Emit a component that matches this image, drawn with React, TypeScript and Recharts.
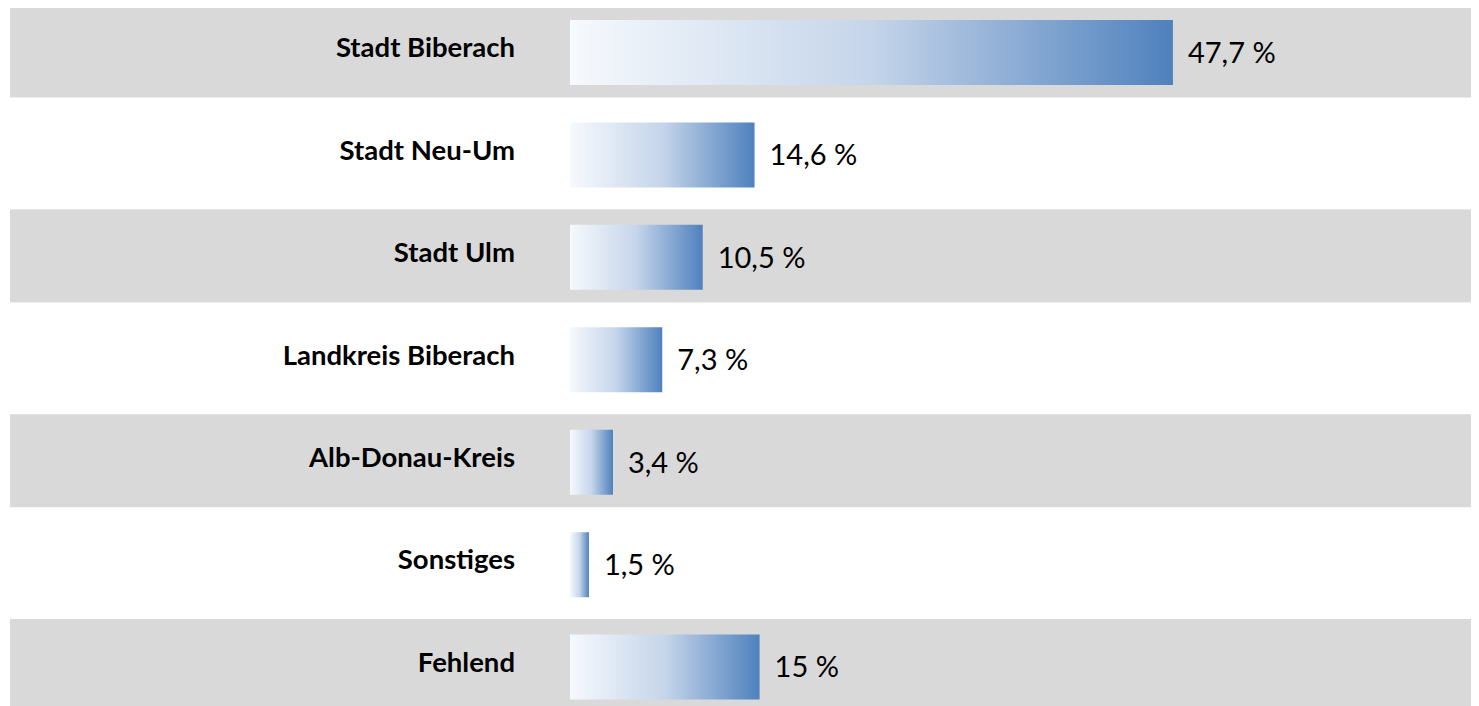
import React from 'react'
import { BarChart, Bar, XAxis, YAxis, LabelList } from 'recharts'

const categories = ['Stadt Biberach', 'Stadt Neu-Um', 'Stadt Ulm', 'Landkreis Biberach', 'Alb-Donau-Kreis', 'Sonstiges', 'Fehlend']
const shares = [47.7, 14.6, 10.5, 7.3, 3.4, 1.5, 15]
const xDomain = [0, 50]

const data = categories.map((name, i) => ({ name, value: shares[i] }))

const FONT = 'Lato, "Open Sans", sans-serif'
const LABEL_AREA = 560 // space left of the plot that the gray stripes still cover

const fmt = (v: any) => Number(v).toLocaleString('de-DE') + ' %'

function CategoryTick({ x, y, payload }: any) {
  return (
    <text x={x} y={y + 5} textAnchor="end" fontFamily={FONT} fontWeight={700} fontSize={27.5} fill="#000">
      {payload.value}
    </text>
  )
}

function Stripe(props: any) {
  const { x, y, width, height, index } = props
  if (index % 2 === 1) return null
  return <rect x={x - LABEL_AREA} y={y + height / 2 - 48} width={width + LABEL_AREA + 400} height={93} fill="#d9d9d9" />
}

export default function App() {
  return (
    <div style={{ margin: '-8px 0 0 -8px', width: 1479, height: 718 }}>
      <BarChart
        width={1479}
        height={718}
        data={data}
        layout="vertical"
        margin={{ top: 1, right: 277, bottom: 0, left: 0 }}
      >
        <defs>
          <linearGradient id="barGrad" x1="0" y1="0" x2="1" y2="0">
            <stop offset="0%" stopColor="#f6f9fd" />
            <stop offset="50%" stopColor="#c5d5ea" />
            <stop offset="100%" stopColor="#4f81bd" />
          </linearGradient>
        </defs>
        <XAxis type="number" domain={xDomain} hide />
        <Bar dataKey="value" barSize={65} fill="url(#barGrad)" background={Stripe} isAnimationActive={false}>
          <LabelList dataKey="value" position="right" offset={15} formatter={fmt} fontFamily={FONT} fontSize={29} fill="#000" />
        </Bar>
        <YAxis
          type="category"
          dataKey="name"
          width={570}
          axisLine={false}
          tickLine={false}
          tickSize={0}
          tickMargin={55}
          interval={0}
          tick={<CategoryTick />}
        />
      </BarChart>
    </div>
  )
}
